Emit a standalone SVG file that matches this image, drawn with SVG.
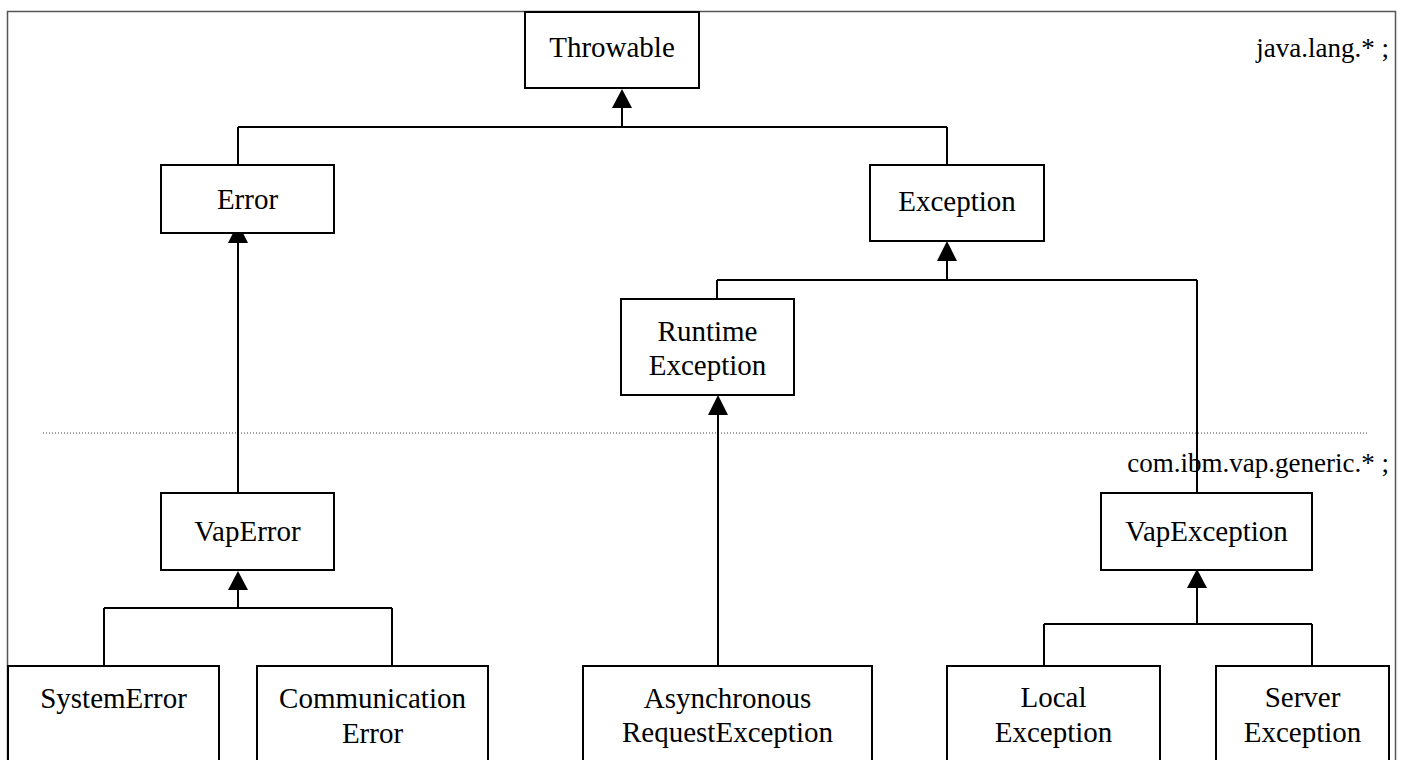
<svg xmlns="http://www.w3.org/2000/svg" width="1405" height="760" viewBox="0 0 1405 760">
<defs>
<style>
.box{fill:#fff;stroke:#000;stroke-width:2}
.t{font-family:"Liberation Serif","Times New Roman",serif;font-size:29px;fill:#000;text-anchor:middle}
.lbl{font-family:"Liberation Serif","Times New Roman",serif;font-size:27px;fill:#000;text-anchor:end}
.ln{fill:none;stroke:#000;stroke-width:2}
.ah{fill:#000}
</style>
</defs>
<rect x="0" y="0" width="1405" height="760" fill="#fff"/>
<rect x="7.5" y="11.5" width="1388" height="800" fill="none" stroke="#555" stroke-width="1.5"/>
<line x1="43" y1="433" x2="1367" y2="433" stroke="#444" stroke-width="1" stroke-dasharray="1 2"/>
<text class="lbl" x="1389" y="57">java.lang.* ;</text>
<text class="lbl" x="1389" y="472">com.ibm.vap.generic.* ;</text>

<g id="connectors">
<path class="ln" d="M622 108 V127 M238 127 H947 M238 127 V165 M947 127 V165"/>
<polygon class="ah" points="622,89 612,108 632,108"/>
<path class="ln" d="M947 261 V280 M717 280 H1197 M717 280 V299 M1197 280 V493"/>
<polygon class="ah" points="947,241 937,261 957,261"/>
<path class="ln" d="M238 243 V493"/>
<polygon class="ah" points="238,223 228,243 248,243"/>
<path class="ln" d="M718 415 V666"/>
<polygon class="ah" points="718,395 708,415 728,415"/>
<path class="ln" d="M238 590 V608 M104 608 H392 M104 608 V666 M392 608 V666"/>
<polygon class="ah" points="238,571 228,590 248,590"/>
<path class="ln" d="M1197 588 V624 M1044 624 H1312 M1044 624 V666 M1312 624 V666"/>
<polygon class="ah" points="1197,569 1187,588 1207,588"/>
</g>

<g id="throwable"><rect class="box" x="525" y="12" width="174" height="76"/><text class="t" x="612" y="57">Throwable</text></g>
<g id="error"><rect class="box" x="161" y="165" width="173" height="68"/><text class="t" x="247.5" y="209">Error</text></g>
<g id="exception"><rect class="box" x="870" y="165" width="174" height="76"/><text class="t" x="957" y="211">Exception</text></g>
<g id="runtime-exception"><rect class="box" x="621" y="299" width="173" height="96"/><text class="t" x="707.5" y="341">Runtime</text><text class="t" x="707.5" y="375">Exception</text></g>
<g id="vap-error"><rect class="box" x="161" y="493" width="173" height="77"/><text class="t" x="247.5" y="541">VapError</text></g>
<g id="vap-exception"><rect class="box" x="1101" y="493" width="211" height="77"/><text class="t" x="1206.5" y="541">VapException</text></g>
<g id="system-error"><rect class="box" x="8" y="666" width="211" height="140"/><text class="t" x="113.5" y="708">SystemError</text></g>
<g id="communication-error"><rect class="box" x="257" y="666" width="231" height="140"/><text class="t" x="372.5" y="708">Communication</text><text class="t" x="372.5" y="743">Error</text></g>
<g id="async-request-exception"><rect class="box" x="583" y="666" width="289" height="140"/><text class="t" x="727.5" y="708">Asynchronous</text><text class="t" x="727.5" y="742">RequestException</text></g>
<g id="local-exception"><rect class="box" x="947" y="666" width="213" height="140"/><text class="t" x="1053.5" y="707">Local</text><text class="t" x="1053.5" y="742">Exception</text></g>
<g id="server-exception"><rect class="box" x="1216" y="666" width="173" height="140"/><text class="t" x="1302.5" y="707">Server</text><text class="t" x="1302.5" y="742">Exception</text></g>
</svg>
